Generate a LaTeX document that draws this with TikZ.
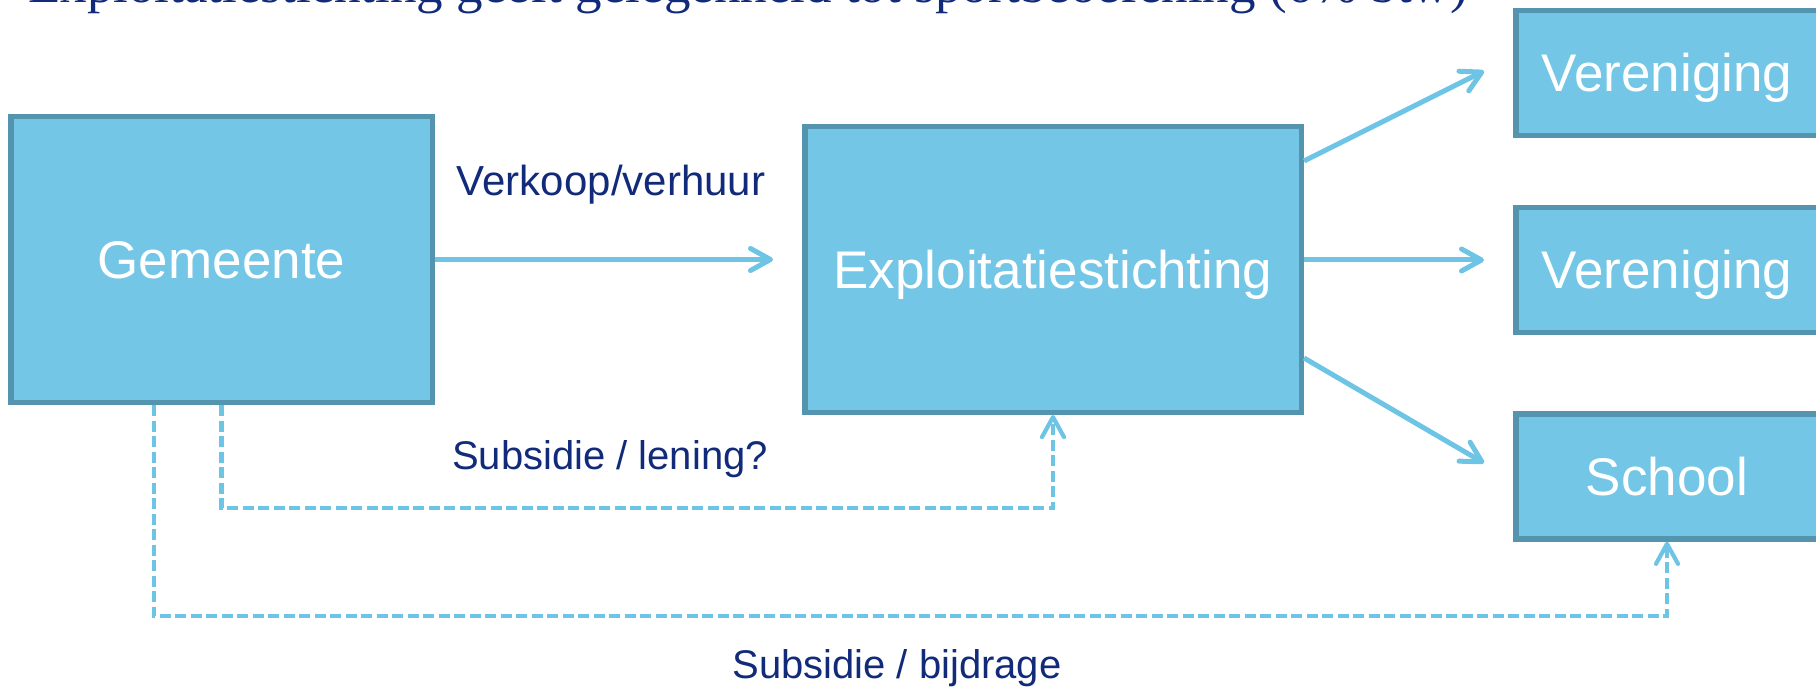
\documentclass[tikz,border=0pt]{standalone}
\usepackage{fontspec}
\setmainfont{Liberation Sans}
\newfontfamily\titlefont{Liberation Serif}
\usetikzlibrary{arrows.meta}
\definecolor{boxfill}{RGB}{115,198,229}
\definecolor{boxline}{RGB}{85,148,174}
\definecolor{arrline}{RGB}{110,196,228}
\definecolor{navy}{RGB}{17,42,122}
\tikzset{
  box/.style={draw=boxline, line width=5.5pt, fill=boxfill, rectangle, inner sep=0pt,
    text=white, font=\fontsize{53}{60}\selectfont, text height=38pt, text depth=0pt},
  smallbox/.style={box, minimum width=302.5pt, minimum height=125pt},
  conn/.style={draw=arrline, line width=5pt, -{Straight Barb[length=20pt,width=22pt,round]}},
  dashconn/.style={conn, line width=4.2pt, dash pattern=on 11pt off 4.5pt},
  lbl/.style={text=navy, font=\fontsize{40}{48}\selectfont, anchor=base, inner sep=0pt},
}
\begin{document}
\begin{tikzpicture}[x=1pt,y=-1pt]
\useasboundingbox (0,0) rectangle (1816,687);
\clip (0,0) rectangle (1816,687);
\node[anchor=base west, inner sep=0pt, text=navy, font=\titlefont\fontsize{53}{60}\selectfont] (title) at (28,3) {Exploitatiestichting geeft gelegenheid tot sportbeoefening (6\% btw)};
\node[box, minimum width=421.5pt, minimum height=285.5pt] (gem) at (221.5,259.5) {Gemeente};
\node[box, minimum width=496.5pt, minimum height=285.5pt] (expl) at (1053,269.5) {Exploitatiestichting};
\node[smallbox] (ver1) at (1667,73) {Vereniging};
\node[smallbox] (ver2) at (1667,270) {Vereniging};
\node[smallbox] (school) at (1667,476.5) {School};
\draw[conn] (gem.east) -- ([xshift=-29pt,yshift=10pt]expl.west);
\draw[conn] ([yshift=108.5pt]expl.east) -- ([xshift=-29pt,yshift=2pt]ver1.west);
\draw[conn] ([yshift=9.5pt]expl.east) -- ([xshift=-29pt,yshift=10pt]ver2.west);
\draw[conn] ([yshift=-88.5pt]expl.east) -- ([xshift=-29pt,yshift=13.5pt]school.west);
\draw[dashconn] (gem.south) -- ++(0,103) -| (expl.south);
\draw[dashconn] ([xshift=-67.8pt]gem.south) -- ++(0,211) -| (school.south);
\node[lbl, font=\fontsize{42}{50}\selectfont] (l1) at (611,196) {Verkoop/verhuur};
\node[lbl] (l2) at (610,469) {Subsidie / lening?};
\node[lbl] (l3) at (897,678) {Subsidie / bijdrage};
\end{tikzpicture}
\end{document}
